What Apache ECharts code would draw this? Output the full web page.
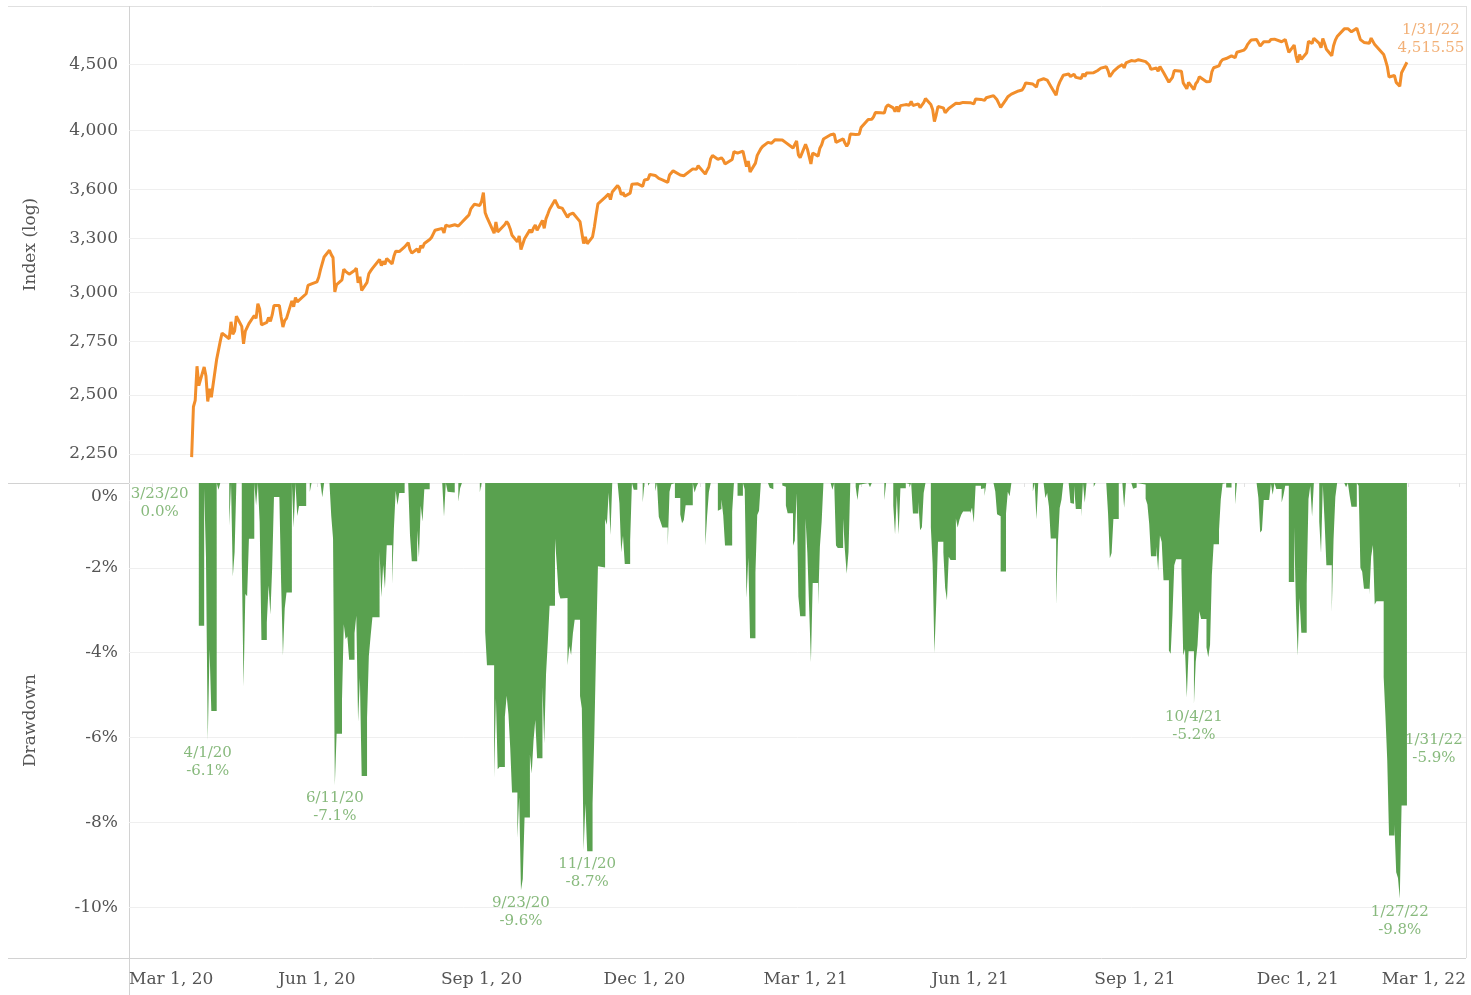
<!DOCTYPE html>
<html>
<head>
<meta charset="utf-8">
<title>S&amp;P 500 index and drawdown</title>
<script src="https://cdn.jsdelivr.net/npm/echarts@6/dist/echarts.min.js"></script>
<style>
  html, body { margin: 0; padding: 0; background: #fff; }
  #chart { width: 1471px; height: 995px; }
</style>
</head>
<body>
<div id="chart"></div>
<script>
// trading days, one row per month
const dayRows = [
  ['2020-03', [23, 24, 25, 26, 27, 30, 31]],
  ['2020-04', [1, 2, 3, 6, 7, 8, 9, 13, 14, 15, 16, 17, 20, 21, 22, 23, 24, 27, 28, 29, 30]],
  ['2020-05', [1, 4, 5, 6, 7, 8, 11, 12, 13, 14, 15, 18, 19, 20, 21, 22, 26, 27, 28, 29]],
  ['2020-06', [1, 2, 3, 4, 5, 8, 9, 10, 11, 12, 15, 16, 17, 18, 19, 22, 23, 24, 25, 26, 29, 30]],
  ['2020-07', [1, 2, 6, 7, 8, 9, 10, 13, 14, 15, 16, 17, 20, 21, 22, 23, 24, 27, 28, 29, 30, 31]],
  ['2020-08', [3, 4, 5, 6, 7, 10, 11, 12, 13, 14, 17, 18, 19, 20, 21, 24, 25, 26, 27, 28, 31]],
  ['2020-09', [1, 2, 3, 4, 8, 9, 10, 11, 14, 15, 16, 17, 18, 21, 22, 23, 24, 25, 28, 29, 30]],
  ['2020-10', [1, 2, 5, 6, 7, 8, 9, 12, 13, 14, 15, 16, 19, 20, 21, 22, 23, 26, 27, 28, 29, 30]],
  ['2020-11', [2, 3, 4, 5, 6, 9, 10, 11, 12, 13, 16, 17, 18, 19, 20, 23, 24, 25, 27, 30]],
  ['2020-12', [1, 2, 3, 4, 7, 8, 9, 10, 11, 14, 15, 16, 17, 18, 21, 22, 23, 24, 28, 29, 30, 31]],
  ['2021-01', [4, 5, 6, 7, 8, 11, 12, 13, 14, 15, 19, 20, 21, 22, 25, 26, 27, 28, 29]],
  ['2021-02', [1, 2, 3, 4, 5, 8, 9, 10, 11, 12, 16, 17, 18, 19, 22, 23, 24, 25, 26]],
  ['2021-03', [1, 2, 3, 4, 5, 8, 9, 10, 11, 12, 15, 16, 17, 18, 19, 22, 23, 24, 25, 26, 29, 30, 31]],
  ['2021-04', [1, 5, 6, 7, 8, 9, 12, 13, 14, 15, 16, 19, 20, 21, 22, 23, 26, 27, 28, 29, 30]],
  ['2021-05', [3, 4, 5, 6, 7, 10, 11, 12, 13, 14, 17, 18, 19, 20, 21, 24, 25, 26, 27, 28]],
  ['2021-06', [1, 2, 3, 4, 7, 8, 9, 10, 11, 14, 15, 16, 17, 18, 21, 22, 23, 24, 25, 28, 29, 30]],
  ['2021-07', [1, 2, 6, 7, 8, 9, 12, 13, 14, 15, 16, 19, 20, 21, 22, 23, 26, 27, 28, 29, 30]],
  ['2021-08', [2, 3, 4, 5, 6, 9, 10, 11, 12, 13, 16, 17, 18, 19, 20, 23, 24, 25, 26, 27, 30, 31]],
  ['2021-09', [1, 2, 3, 7, 8, 9, 10, 13, 14, 15, 16, 17, 20, 21, 22, 23, 24, 27, 28, 29, 30]],
  ['2021-10', [1, 4, 5, 6, 7, 8, 11, 12, 13, 14, 15, 18, 19, 20, 21, 22, 25, 26, 27, 28, 29]],
  ['2021-11', [1, 2, 3, 4, 5, 8, 9, 10, 11, 12, 15, 16, 17, 18, 19, 22, 23, 24, 26, 29, 30]],
  ['2021-12', [1, 2, 3, 6, 7, 8, 9, 10, 13, 14, 15, 16, 17, 20, 21, 22, 23, 27, 28, 29, 30, 31]],
  ['2022-01', [3, 4, 5, 6, 7, 10, 11, 12, 13, 14, 18, 19, 20, 21, 24, 25, 26, 27, 28, 31]]
];

// index closes, same rows as above
const closeRows = [
  [2237.40, 2447.33, 2475.56, 2630.07, 2541.47, 2626.65, 2584.59],
  [2470.50, 2526.90, 2488.65, 2663.68, 2659.41, 2749.98, 2789.82, 2761.63, 2846.06, 2783.36, 2799.55,
   2874.56, 2823.16, 2736.56, 2799.31, 2797.80, 2836.74, 2878.48, 2863.39, 2939.51, 2912.43],
  [2830.71, 2842.74, 2868.44, 2848.42, 2881.19, 2929.80, 2930.32, 2870.12, 2820.00, 2852.50, 2863.70,
   2953.91, 2922.94, 2971.61, 2948.51, 2955.45, 2991.77, 3036.13, 3029.73, 3044.31],
  [3055.73, 3080.82, 3122.87, 3112.35, 3193.93, 3232.39, 3207.18, 3190.14, 3002.10, 3041.31, 3066.59,
   3124.74, 3113.49, 3115.34, 3097.74, 3117.86, 3131.29, 3050.33, 3083.76, 3009.05, 3053.24, 3100.29],
  [3115.86, 3130.01, 3179.72, 3145.32, 3169.94, 3152.05, 3185.04, 3155.22, 3197.52, 3226.56, 3215.57,
   3224.73, 3251.84, 3257.30, 3276.02, 3235.66, 3215.63, 3239.41, 3218.44, 3258.44, 3246.22, 3271.12],
  [3294.61, 3306.51, 3327.77, 3349.16, 3351.28, 3360.47, 3333.69, 3380.35, 3373.43, 3372.85, 3381.99,
   3389.78, 3374.85, 3385.51, 3397.16, 3431.28, 3443.62, 3478.73, 3484.55, 3508.01, 3500.31],
  [3526.65, 3580.84, 3455.06, 3426.96, 3331.84, 3398.96, 3339.19, 3340.97, 3383.54, 3401.20, 3385.49,
   3357.01, 3319.47, 3281.06, 3315.57, 3236.92, 3246.59, 3298.46, 3351.60, 3335.47, 3363.00],
  [3380.80, 3348.42, 3408.60, 3360.97, 3419.44, 3446.83, 3477.14, 3534.22, 3511.93, 3488.67, 3483.34,
   3483.81, 3426.92, 3443.12, 3435.56, 3453.49, 3465.39, 3400.97, 3390.68, 3271.03, 3310.11, 3269.96],
  [3310.24, 3369.16, 3443.44, 3510.45, 3509.44, 3550.50, 3545.53, 3572.66, 3537.01, 3585.15, 3626.91,
   3609.53, 3567.79, 3581.87, 3557.54, 3577.59, 3635.41, 3629.65, 3638.35, 3621.63],
  [3662.45, 3669.01, 3666.72, 3699.12, 3691.96, 3702.25, 3672.82, 3668.10, 3663.46, 3647.49, 3694.62,
   3701.17, 3722.48, 3709.41, 3694.92, 3687.26, 3690.01, 3703.06, 3735.36, 3727.04, 3732.04, 3756.07],
  [3700.65, 3726.86, 3748.14, 3803.79, 3824.68, 3799.61, 3801.19, 3809.84, 3795.54, 3768.25, 3798.91,
   3851.85, 3853.07, 3841.47, 3855.36, 3849.62, 3750.77, 3787.38, 3714.24],
  [3773.86, 3826.31, 3830.17, 3871.74, 3886.83, 3915.59, 3911.23, 3909.88, 3916.38, 3934.83, 3932.59,
   3931.33, 3913.97, 3906.71, 3876.50, 3881.37, 3925.43, 3829.34, 3811.15],
  [3901.82, 3870.29, 3819.72, 3768.47, 3841.94, 3821.35, 3875.44, 3898.81, 3939.34, 3943.34, 3968.94,
   3962.71, 3974.12, 3915.46, 3913.10, 3940.59, 3910.52, 3889.14, 3909.52, 3974.54, 3971.09, 3958.55, 3972.89],
  [4019.87, 4077.91, 4073.94, 4079.95, 4097.17, 4128.80, 4127.99, 4141.59, 4124.66, 4170.42, 4185.47,
   4163.26, 4134.94, 4173.42, 4134.98, 4180.17, 4187.62, 4186.72, 4183.18, 4211.47, 4181.17],
  [4192.66, 4164.66, 4167.59, 4201.62, 4232.60, 4188.43, 4152.10, 4063.04, 4112.50, 4173.85, 4163.29,
   4127.83, 4115.68, 4159.12, 4155.86, 4197.05, 4188.13, 4195.99, 4200.88, 4204.11],
  [4202.04, 4208.12, 4192.85, 4229.89, 4226.52, 4227.26, 4219.55, 4239.18, 4247.44, 4255.15, 4246.59,
   4223.70, 4221.86, 4166.45, 4224.79, 4246.44, 4241.84, 4266.49, 4280.70, 4290.61, 4291.80, 4297.50],
  [4319.94, 4352.34, 4343.54, 4358.13, 4320.82, 4369.55, 4384.63, 4369.21, 4374.30, 4360.03, 4327.16,
   4258.49, 4323.06, 4358.69, 4367.48, 4411.79, 4422.30, 4401.46, 4400.64, 4419.15, 4395.26],
  [4387.16, 4423.15, 4402.66, 4429.10, 4436.52, 4432.35, 4436.75, 4447.70, 4460.83, 4468.00, 4479.71,
   4448.08, 4400.27, 4405.80, 4441.67, 4479.53, 4486.23, 4496.19, 4470.00, 4509.37, 4528.79, 4522.68],
  [4524.09, 4536.95, 4535.43, 4520.03, 4514.07, 4493.28, 4458.58, 4468.73, 4443.05, 4480.70, 4473.75,
   4432.99, 4357.73, 4354.19, 4395.64, 4448.98, 4455.48, 4443.11, 4352.63, 4359.46, 4307.54],
  [4357.04, 4300.46, 4345.72, 4363.55, 4399.76, 4391.34, 4361.19, 4350.65, 4363.80, 4438.26, 4471.37,
   4486.46, 4519.63, 4536.19, 4549.78, 4544.90, 4566.48, 4574.79, 4551.68, 4596.42, 4605.38],
  [4613.67, 4630.65, 4660.57, 4680.06, 4697.53, 4701.70, 4685.25, 4646.71, 4649.27, 4682.85, 4682.80,
   4700.90, 4688.67, 4704.54, 4697.96, 4682.94, 4690.70, 4701.46, 4594.62, 4655.27, 4567.00],
  [4513.04, 4577.10, 4538.43, 4591.67, 4686.75, 4701.21, 4667.45, 4712.02, 4668.97, 4634.09, 4709.85,
   4668.67, 4620.64, 4568.02, 4649.23, 4696.56, 4725.79, 4791.19, 4786.35, 4793.06, 4778.73, 4766.18],
  [4796.56, 4793.54, 4700.58, 4696.05, 4677.03, 4670.29, 4713.07, 4726.35, 4659.03, 4662.85, 4577.11,
   4532.76, 4482.73, 4397.94, 4410.13, 4356.45, 4349.93, 4326.51, 4431.85, 4515.55]
];

const indexTicks = [2250, 2500, 2750, 3000, 3300, 3600, 4000, 4500];
const drawdownTicks = [-10, -8, -6, -4, -2, 0];
const xLabelDates = ['2020-03-01', '2020-06-01', '2020-09-01', '2020-12-01', '2021-03-01',
                     '2021-06-01', '2021-09-01', '2021-12-01', '2022-03-01'];

// annotated lows (label text, trading day it sits on)
const noteDays = ['2020-03-23', '2020-04-01', '2020-06-11', '2020-09-23', '2020-10-30',
                  '2021-10-04', '2022-01-27', '2022-01-31'];
const noteTexts = ['3/23/20', '4/1/20', '6/11/20', '9/23/20', '11/1/20', '10/4/21', '1/27/22', '1/31/22'];
const lastText = '1/31/22';

const tradingDays = dayRows.flatMap(([m, ds]) => ds.map(d => m + '-' + String(d).padStart(2, '0')));
const closes = closeRows.flat();

// drawdown from running peak, in %
let peak = -Infinity;
const drawdown = closes.map(c => {
  peak = Math.max(peak, c);
  return (c / peak - 1) * 100;
});

const FONT = 'DejaVu Serif';
const ORANGE = '#f28e2b';
const GREEN = '#59a14f';
const ts = s => new Date(s + 'T00:00:00').getTime();
const X_MIN = ts('2020-02-17');
const X_MAX = ts('2022-03-05');
const monthNames = ['Jan', 'Feb', 'Mar', 'Apr', 'May', 'Jun', 'Jul', 'Aug', 'Sep', 'Oct', 'Nov', 'Dec'];
const fmtDate = s => {
  const [y, m, d] = s.split('-').map(Number);
  return monthNames[m - 1] + ' ' + d + ', ' + String(y).slice(2);
};

// x labels: first and last are pushed to the plot edges like the original
const labelAnchors = xLabelDates.map((s, i) =>
  i === 0 ? X_MIN : i === xLabelDates.length - 1 ? X_MAX : ts(s));
const labelText = {};
labelAnchors.forEach((v, i) => { labelText[v] = fmtDate(xLabelDates[i]); });

// one small tick per month
const monthTicks = [];
for (let i = 0; i <= 24; i++) {
  monthTicks.push(new Date(2020, 2 + i, 1).getTime());
}

const noteLayout = {
  '2020-03-23': { position: 'inside', offset: [-32, 20] },
  '2022-01-31': { position: 'inside', offset: [27, 18] }
};

const ddNotes = noteDays.map((d, i) => {
  const idx = tradingDays.indexOf(d);
  const v = drawdown[idx];
  const lay = noteLayout[d] || { position: 'bottom', distance: 4 };
  return {
    value: [ts(d), v],
    name: noteTexts[i] + '\n' + v.toFixed(1) + '%',
    label: Object.assign({}, lay)
  };
});

const lastIdx = closes.length - 1;
const topNote = [{
  value: [ts(tradingDays[lastIdx]), closes[lastIdx]],
  name: lastText + '\n' + closes[lastIdx].toLocaleString('en-US', { minimumFractionDigits: 2 })
}];

const frame = '#d2d2d2';
const option = {
  animation: false,
  backgroundColor: '#fff',
  grid: [
    { left: 129, right: 5, top: 6, height: 477 },
    { left: 129, right: 5, top: 483, height: 475 }
  ],
  xAxis: [
    { type: 'value', gridIndex: 0, min: X_MIN, max: X_MAX, show: false },
    {
      type: 'value', gridIndex: 1, min: X_MIN, max: X_MAX,
      axisLine: { show: false },
      axisTick: { show: true, customValues: monthTicks, length: 4, lineStyle: { color: '#e2e2e2' } },
      axisLabel: {
        customValues: labelAnchors,
        formatter: v => labelText[v] || '',
        alignMinLabel: 'left', alignMaxLabel: 'right',
        margin: 13, color: '#555', fontSize: 17, fontFamily: FONT
      },
      splitLine: { show: false }
    }
  ],
  yAxis: [
    {
      type: 'log', gridIndex: 0, min: 2137, max: 4990,
      axisLine: { show: false },
      axisTick: { show: false, customValues: indexTicks },
      axisLabel: {
        customValues: indexTicks,
        formatter: v => Math.round(v).toLocaleString('en-US'),
        margin: 11, color: '#555', fontSize: 17, fontFamily: FONT
      },
      splitLine: { show: true, lineStyle: { color: '#efefef' } },
      name: 'Index (log)', nameLocation: 'middle', nameGap: 90,
      nameTextStyle: { color: '#555', fontSize: 17, fontFamily: FONT }
    },
    {
      type: 'value', gridIndex: 1, min: -11.2, max: 0,
      axisLine: { show: false },
      axisTick: { show: false, customValues: drawdownTicks },
      axisLabel: {
        customValues: drawdownTicks,
        formatter: v => (Math.round(v) === 0 ? '{top|0%}' : Math.round(v) + '%'),
        rich: { top: { padding: [5, 0, 0, 0], color: '#555', fontSize: 17, fontFamily: FONT } },
        verticalAlignMaxLabel: 'top',
        margin: 11, color: '#555', fontSize: 17, fontFamily: FONT
      },
      splitLine: { show: true, lineStyle: { color: '#efefef' } },
      name: 'Drawdown', nameLocation: 'middle', nameGap: 90,
      nameTextStyle: { color: '#555', fontSize: 17, fontFamily: FONT }
    }
  ],
  series: [
    {
      name: 'Index', type: 'line', xAxisIndex: 0, yAxisIndex: 0,
      data: tradingDays.map((d, i) => [ts(d), closes[i]]),
      showSymbol: false, silent: true,
      lineStyle: { color: ORANGE, width: 3 }
    },
    {
      name: 'Drawdown', type: 'line', xAxisIndex: 1, yAxisIndex: 1,
      data: tradingDays.map((d, i) => [ts(d), drawdown[i]]),
      step: 'end', showSymbol: false, silent: true,
      lineStyle: { width: 0, color: GREEN },
      areaStyle: { color: GREEN, opacity: 1 }
    },
    {
      type: 'scatter', xAxisIndex: 1, yAxisIndex: 1, silent: true, z: 5,
      symbolSize: 0.1, itemStyle: { color: 'transparent' },
      data: ddNotes,
      label: {
        show: true, formatter: p => p.name,
        color: '#69a85b', fontSize: 15, lineHeight: 18, fontFamily: FONT, align: 'center'
      }
    },
    {
      type: 'scatter', xAxisIndex: 0, yAxisIndex: 0, silent: true, z: 5,
      symbolSize: 0.1, itemStyle: { color: 'transparent' },
      data: topNote,
      label: {
        show: true, formatter: p => p.name, position: 'inside', offset: [24, -23],
        color: '#ef9c55', fontSize: 15, lineHeight: 18, fontFamily: FONT, align: 'center'
      }
    }
  ],
  graphic: [
    { type: 'line', silent: true, shape: { x1: 8, y1: 6.5, x2: 1466, y2: 6.5 }, style: { stroke: '#e0e0e0', lineWidth: 1 } },
    { type: 'line', silent: true, shape: { x1: 8, y1: 483.5, x2: 1466, y2: 483.5 }, style: { stroke: frame, lineWidth: 1 } },
    { type: 'line', silent: true, shape: { x1: 8, y1: 958.5, x2: 1466, y2: 958.5 }, style: { stroke: frame, lineWidth: 1 } },
    { type: 'line', silent: true, shape: { x1: 129.5, y1: 6, x2: 129.5, y2: 995 }, style: { stroke: frame, lineWidth: 1 } },
    { type: 'line', silent: true, shape: { x1: 1466.5, y1: 6, x2: 1466.5, y2: 958 }, style: { stroke: '#e0e0e0', lineWidth: 1 } }
  ]
};

const chart = echarts.init(document.getElementById('chart'));
chart.setOption(option);
window.addEventListener('resize', () => chart.resize());
</script>
</body>
</html>
